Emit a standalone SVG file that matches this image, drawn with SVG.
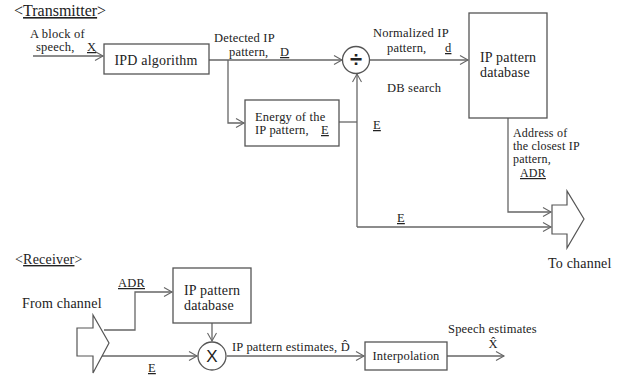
<svg xmlns="http://www.w3.org/2000/svg" width="626" height="375" viewBox="0 0 626 375">
<defs>
<marker id="arr" markerUnits="userSpaceOnUse" markerWidth="12" markerHeight="12" refX="9" refY="5" orient="auto">
<path d="M1,0.5 L9,5 L1,9.5" fill="none" stroke="#666" stroke-width="1.1"/>
</marker>
</defs>
<style>
text{font-family:"Liberation Serif","DejaVu Serif",serif;fill:#222;}
.s{font-size:12.5px;letter-spacing:0.2px;}
.a{font-size:12px;letter-spacing:0.2px;}
.m{font-size:14px;letter-spacing:0.2px;}
.l{font-size:16px;}
.u{text-decoration:underline;}
.box{fill:#fff;stroke:#555;stroke-width:1.3;}
.ln{fill:none;stroke:#666;stroke-width:1.3;}
.big{fill:#fff;stroke:#555;stroke-width:1.2;}
</style>
<rect width="626" height="375" fill="#fff"/>

<text class="l" x="14" y="16">&lt;<tspan class="u">Transmitter</tspan>&gt;</text>
<text class="m" x="15" y="264">&lt;<tspan class="u">Receiver</tspan>&gt;</text>

<g id="connectors">
<path class="ln" d="M33,56 L103,56" marker-end="url(#arr)"/>
<path class="ln" d="M209,60 L342,60" marker-end="url(#arr)"/>
<path class="ln" d="M228,60 L228,123 L244,123" marker-end="url(#arr)"/>
<path class="ln" d="M339,122 L357,122"/>
<path class="ln" d="M357,227 L357,74" marker-end="url(#arr)"/>
<path class="ln" d="M357,227 L551,227" marker-end="url(#arr)"/>
<path class="ln" d="M370,60 L468,60" marker-end="url(#arr)"/>
<path class="ln" d="M508,118 L508,212 L551,212" marker-end="url(#arr)"/>
<path class="ln" d="M104,330 L135,330 L135,292 L172,292" marker-end="url(#arr)"/>
<path class="ln" d="M102,356 L197,356" marker-end="url(#arr)"/>
<path class="ln" d="M212,323 L212,341" marker-end="url(#arr)"/>
<path class="ln" d="M227,356 L364,356" marker-end="url(#arr)"/>
<path class="ln" d="M447,356 L504,356" marker-end="url(#arr)"/>
</g>

<g id="input-label">
<text class="s" x="30" y="38">A block of</text>
<text class="s" x="36" y="51">speech,  <tspan class="u" x="87">X</tspan></text>
</g>

<g id="ipd">
<rect class="box" x="104" y="44" width="105" height="30"/>
<text class="m" x="156" y="65" text-anchor="middle">IPD algorithm</text>
</g>

<g id="detected-label">
<text class="s" x="214" y="42">Detected IP</text>
<text class="s" x="229" y="56">pattern, <tspan class="u" x="280">D</tspan></text>
</g>

<g id="energy">
<rect class="box" x="245" y="100" width="94" height="46"/>
<text class="s" x="255" y="121">Energy of the</text>
<text class="s" x="255" y="134">IP pattern, <tspan class="u" x="321">E</tspan></text>
</g>

<g id="divide">
<circle cx="356" cy="60" r="13.5" fill="#fff" stroke="#555" stroke-width="1.3"/>
<text x="356" y="67" text-anchor="middle" style="font-family:'Liberation Sans','DejaVu Sans',sans-serif;font-size:22px;font-weight:bold">÷</text>
</g>

<g id="normalized-label">
<text class="s" x="373" y="37">Normalized IP</text>
<text class="s" x="387" y="52">pattern, <tspan class="u" x="445">d</tspan></text>
<text class="s" x="387" y="92">DB search</text>
</g>

<g id="e-labels">
<text class="s u" x="373" y="129">E</text>
<text class="s u" x="397" y="222">E</text>
</g>

<g id="db-tx">
<rect class="box" x="469" y="13" width="78" height="105"/>
<text class="m" x="480" y="62">IP pattern</text>
<text class="m" x="480" y="77">database</text>
</g>

<g id="address-label">
<text class="a" x="513" y="137">Address of</text>
<text class="a" x="513" y="150">the closest IP</text>
<text class="a" x="513" y="163">pattern,</text>
<text class="a u" x="520" y="177">ADR</text>
</g>

<g id="to-channel">
<polygon class="big" points="552,205 567,205 567,191 584,219 567,248 567,234 552,234"/>
<text class="m" x="548" y="268">To channel</text>
</g>

<g id="from-channel">
<text class="m" x="22" y="308">From channel</text>
<polygon class="big" points="77,328 93,328 93,315 109,343 93,373 93,356 77,356"/>
</g>

<g id="rx-labels">
<text class="s u" x="118" y="287">ADR</text>
<text class="s u" x="148" y="372">E</text>
</g>

<g id="db-rx">
<rect class="box" x="173" y="268" width="78" height="55"/>
<text class="m" x="184" y="295">IP pattern</text>
<text class="m" x="184" y="310">database</text>
</g>

<g id="multiply">
<circle cx="212" cy="356" r="14" fill="#fff" stroke="#555" stroke-width="1.3"/>
<text x="212" y="362" text-anchor="middle" style="font-family:'Liberation Sans','DejaVu Sans',sans-serif;font-size:17px">X</text>
</g>

<g id="estimates-label">
<text class="s" x="232" y="351">IP pattern estimates, D̂</text>
</g>

<g id="interp">
<rect class="box" x="365" y="342" width="82" height="28"/>
<text class="s" x="406" y="360" text-anchor="middle">Interpolation</text>
</g>

<g id="speech-label">
<text class="s" x="448" y="333">Speech estimates</text>
<text class="s" x="493" y="348" text-anchor="middle">X̂</text>
</g>
</svg>
